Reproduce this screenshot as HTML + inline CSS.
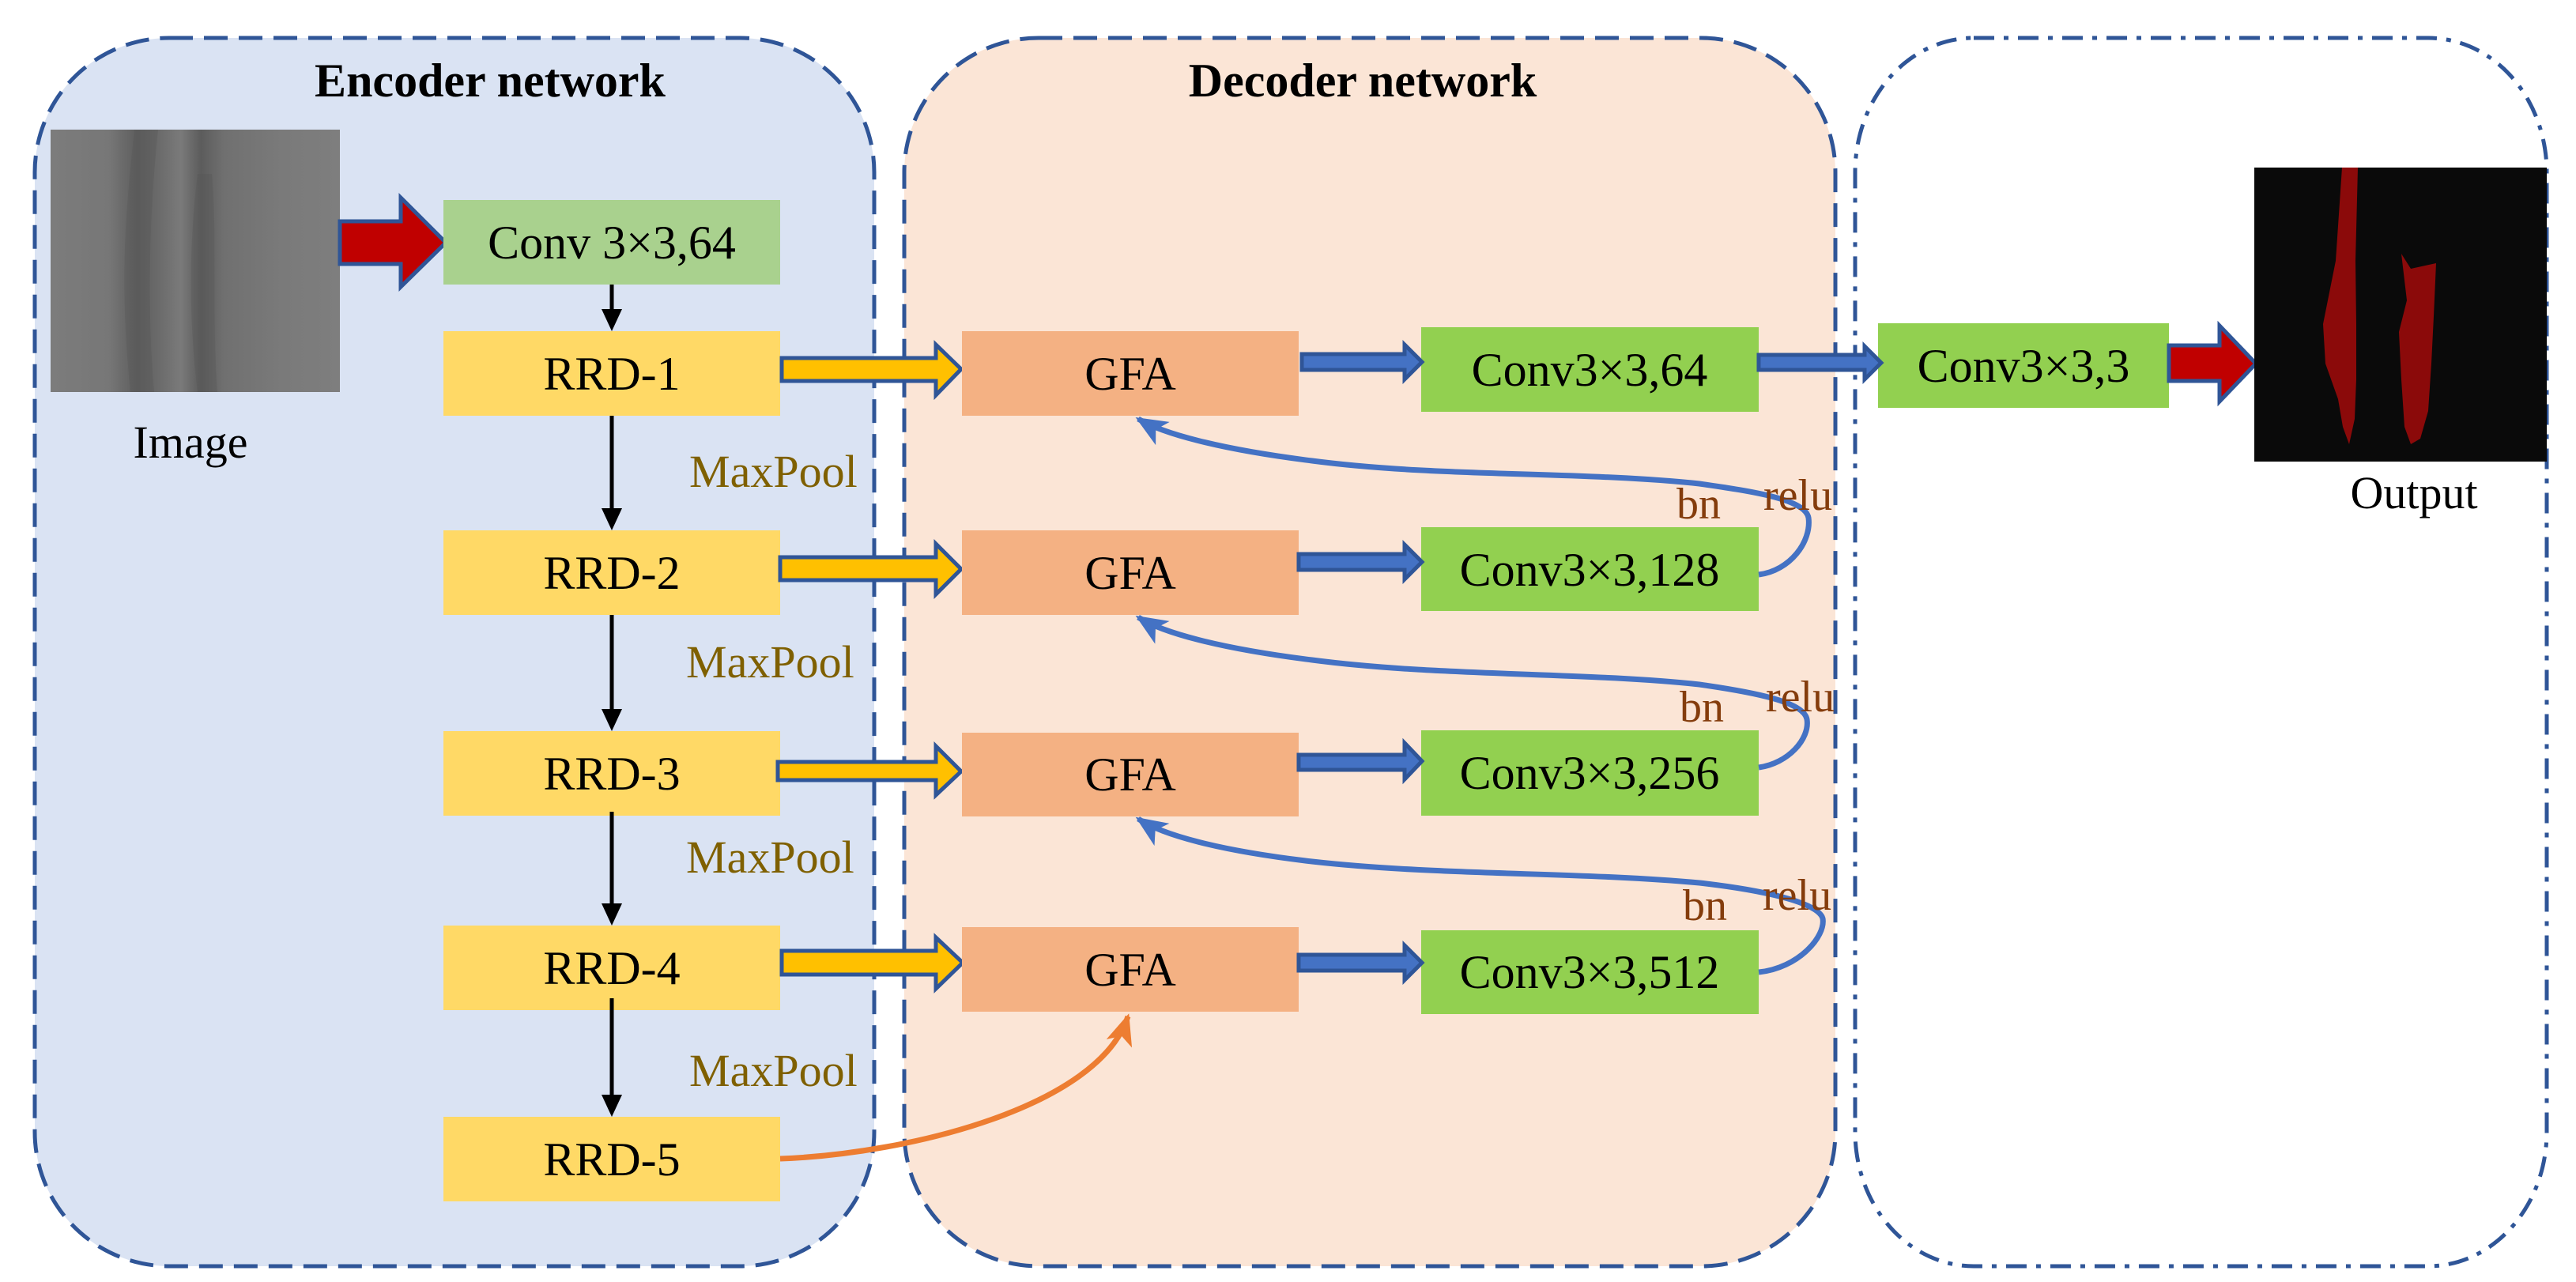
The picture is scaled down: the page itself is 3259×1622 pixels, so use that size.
<!DOCTYPE html>
<html><head><meta charset="utf-8"><style>
html,body{margin:0;padding:0;background:#fff;}
svg{display:block;}
text{font-family:"Liberation Serif",serif;}
</style></head><body>
<svg width="3259" height="1622" viewBox="0 0 3259 1622" xmlns="http://www.w3.org/2000/svg">
<defs>
<marker id="mb" markerUnits="userSpaceOnUse" markerWidth="40" markerHeight="34" refX="36" refY="17" orient="auto"><path d="M0,0 L40,17 L0,34 L10,17 Z" fill="#4472C4"/></marker>
<marker id="mo" markerUnits="userSpaceOnUse" markerWidth="40" markerHeight="34" refX="36" refY="17" orient="auto"><path d="M0,0 L40,17 L0,34 L10,17 Z" fill="#ED7D31"/></marker>
<linearGradient id="gimg" x1="0" x2="1" y1="0" y2="0">
<stop offset="0" stop-color="#7c7c7c"/><stop offset="0.2" stop-color="#777"/><stop offset="0.3" stop-color="#5e5e5e"/><stop offset="0.37" stop-color="#6a6a6a"/><stop offset="0.45" stop-color="#7a7a7a"/><stop offset="0.52" stop-color="#5c5c5c"/><stop offset="0.6" stop-color="#707070"/><stop offset="0.8" stop-color="#7a7a7a"/><stop offset="1" stop-color="#7e7e7e"/>
</linearGradient>
</defs>

<!-- group boxes -->
<rect x="44" y="48" width="1062" height="1554" rx="170" ry="170" fill="#DAE3F3" stroke="#2F5597" stroke-width="5" stroke-dasharray="30 14"/>
<rect x="1144" y="48" width="1178" height="1554" rx="170" ry="170" fill="#FBE5D6" stroke="#2F5597" stroke-width="5" stroke-dasharray="30 14"/>
<rect x="2347" y="48" width="875" height="1554" rx="150" ry="170" fill="#fff" stroke="#2F5597" stroke-width="5" stroke-dasharray="26 12 6 12"/>

<text x="620" y="122" font-size="60" font-weight="bold" text-anchor="middle">Encoder network</text>
<text x="1724" y="122" font-size="60" font-weight="bold" text-anchor="middle">Decoder network</text>

<!-- input image -->
<rect x="64" y="164" width="366" height="332" fill="url(#gimg)"/>
<path d="M170,164 C160,260 150,350 165,496 L195,496 C185,380 190,260 200,164 Z" fill="#555" opacity="0.35"/>
<path d="M250,220 C240,300 238,400 250,496 L275,496 C268,400 275,300 268,220 Z" fill="#555" opacity="0.35"/>
<text x="241" y="579" font-size="58" text-anchor="middle">Image</text>

<!-- red arrow 1 -->
<path d="M430,280 L507,280 L507,250 L564,307 L507,363 L507,334 L430,334 Z" fill="#C00000" stroke="#2F5597" stroke-width="5"/>

<!-- encoder blocks -->
<rect x="561" y="253" width="426" height="107" fill="#A9D18E"/>
<text x="774" y="327" font-size="60" text-anchor="middle">Conv 3×3,64</text>
<g fill="#FFD966">
<rect x="561" y="419" width="426" height="107"/>
<rect x="561" y="671" width="426" height="107"/>
<rect x="561" y="925" width="426" height="107"/>
<rect x="561" y="1171" width="426" height="107"/>
<rect x="561" y="1413" width="426" height="107"/>
</g>
<g font-size="60" text-anchor="middle">
<text x="774" y="493">RRD-1</text>
<text x="774" y="745">RRD-2</text>
<text x="774" y="999">RRD-3</text>
<text x="774" y="1245">RRD-4</text>
<text x="774" y="1487">RRD-5</text>
</g>
<!-- vertical arrows -->
<g stroke="#000" stroke-width="5">
<line x1="774" y1="360" x2="774" y2="392"/>
<line x1="774" y1="526" x2="774" y2="644"/>
<line x1="774" y1="778" x2="774" y2="898"/>
<line x1="774" y1="1027" x2="774" y2="1144"/>
<line x1="774" y1="1263" x2="774" y2="1386"/>
</g>
<g fill="#000">
<path d="M761,391 L787,391 L774,419 Z"/>
<path d="M761,643 L787,643 L774,671 Z"/>
<path d="M761,897 L787,897 L774,925 Z"/>
<path d="M761,1143 L787,1143 L774,1171 Z"/>
<path d="M761,1385 L787,1385 L774,1413 Z"/>
</g>
<g font-size="58" fill="#7F6000">
<text x="872" y="616">MaxPool</text>
<text x="868" y="857">MaxPool</text>
<text x="868" y="1104">MaxPool</text>
<text x="872" y="1374">MaxPool</text>
</g>

<!-- yellow arrows -->
<g fill="#FFC000" stroke="#2F5597" stroke-width="5">
<path d="M989,453 L1184,453 L1184,436 L1216,467 L1184,500 L1184,482 L989,482 Z"/>
<path d="M987,705 L1184,705 L1184,688 L1216,720 L1184,752 L1184,734 L987,734 Z"/>
<path d="M984,964 L1184,964 L1184,944 L1216,976 L1184,1006 L1184,987 L984,987 Z"/>
<path d="M989,1203 L1184,1203 L1184,1186 L1218,1218 L1184,1251 L1184,1233 L989,1233 Z"/>
</g>

<!-- GFA -->
<g fill="#F4B183">
<rect x="1217" y="419" width="426" height="107"/>
<rect x="1217" y="671" width="426" height="107"/>
<rect x="1217" y="927" width="426" height="106"/>
<rect x="1217" y="1173" width="426" height="107"/>
</g>
<g font-size="60" text-anchor="middle">
<text x="1430" y="493">GFA</text>
<text x="1430" y="745">GFA</text>
<text x="1430" y="1000">GFA</text>
<text x="1430" y="1247">GFA</text>
</g>

<!-- conv green -->
<g fill="#92D050">
<rect x="1798" y="414" width="427" height="107"/>
<rect x="1798" y="667" width="427" height="106"/>
<rect x="1798" y="924" width="427" height="108"/>
<rect x="1798" y="1177" width="427" height="106"/>
<rect x="2376" y="409" width="368" height="107"/>
</g>
<g font-size="60" text-anchor="middle">
<text x="2011" y="488">Conv3×3,64</text>
<text x="2011" y="741">Conv3×3,128</text>
<text x="2011" y="998">Conv3×3,256</text>
<text x="2011" y="1250">Conv3×3,512</text>
<text x="2560" y="483">Conv3×3,3</text>
</g>

<!-- blue block arrows -->
<g fill="#4472C4" stroke="#2F5597" stroke-width="5">
<path d="M1647,448 L1777,448 L1777,436 L1799,458 L1777,480 L1777,468 L1647,468 Z"/>
<path d="M1643,701 L1777,701 L1777,689 L1799,711 L1777,733 L1777,721 L1643,721 Z"/>
<path d="M1643,955 L1777,955 L1777,940 L1799,963 L1777,986 L1777,974 L1643,974 Z"/>
<path d="M1643,1208 L1777,1208 L1777,1196 L1799,1218 L1777,1240 L1777,1228 L1643,1228 Z"/>
<path d="M2225,449 L2359,449 L2359,438 L2380,459 L2359,480 L2359,468 L2225,468 Z"/>
</g>

<!-- red arrow 2 -->
<path d="M2744,437 L2808,437 L2808,412 L2854,460 L2808,508 L2808,482 L2744,482 Z" fill="#C00000" stroke="#2F5597" stroke-width="5"/>

<!-- output image -->
<rect x="2852" y="212" width="370" height="372" fill="#0a0a0a"/>
<path d="M2963,212 L2983,212 L2980,330 L2981,410 L2981,480 L2979,530 L2972,562 L2964,540 L2958,505 L2942,460 L2939,410 L2955,330 Z" fill="#8B0A0A"/>
<path d="M3038,321 L3050,340 L3082,333 L3079,400 L3076,460 L3072,520 L3062,555 L3050,562 L3042,540 L3038,480 L3035,420 L3045,380 Z" fill="#8B0A0A"/>
<text x="3054" y="643" font-size="58" text-anchor="middle">Output</text>

<!-- feedback curves -->
<g fill="none" stroke="#4472C4" stroke-width="7">
<path d="M2225,727 C2265,722 2292,685 2288,655 C2284,632 2220,622 2150,612 C2000,596 1820,604 1660,583 C1540,568 1470,548 1440,530" marker-end="url(#mb)"/>
<path d="M2225,971 C2262,966 2290,935 2286,910 C2282,888 2220,876 2150,866 C2000,850 1820,856 1660,835 C1540,820 1470,800 1440,781" marker-end="url(#mb)"/>
<path d="M2225,1230 C2275,1225 2310,1185 2306,1162 C2300,1140 2220,1125 2150,1117 C2000,1103 1820,1108 1660,1090 C1540,1076 1470,1056 1440,1036" marker-end="url(#mb)"/>
</g>
<path d="M987,1466 C1150,1460 1390,1400 1427,1286" fill="none" stroke="#ED7D31" stroke-width="7" marker-end="url(#mo)"/>

<g font-size="56" fill="#843C0C">
<text x="2121" y="656">bn</text>
<text x="2231" y="645">relu</text>
<text x="2125" y="913">bn</text>
<text x="2234" y="900">relu</text>
<text x="2129" y="1164">bn</text>
<text x="2230" y="1151">relu</text>
</g>
</svg>
</body></html>
